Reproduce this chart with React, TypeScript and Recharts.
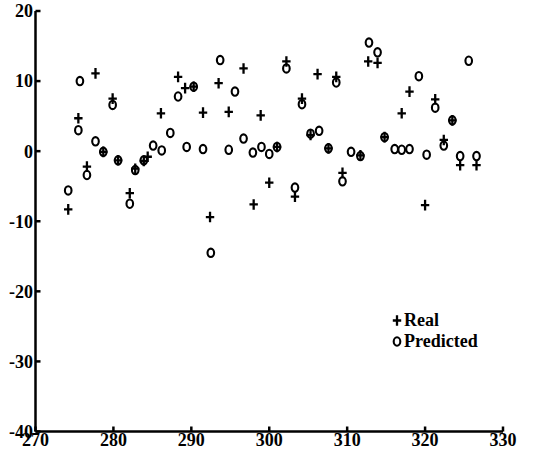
import { ScatterChart, Scatter, XAxis, YAxis, Legend } from 'recharts'

const xTicks = [270, 280, 290, 300, 310, 320, 330]
const yTicks = [-40, -30, -20, -10, 0, 10, 20]

// Real series (+)
const realX = [
  274.2, 275.5, 276.6, 277.7, 278.7, 279.9, 280.6, 282.1, 282.8, 283.9, 284.4,
  286.1, 288.3, 289.2, 290.3, 291.5, 292.4, 293.5, 294.8, 296.7, 298.0, 298.9,
  300.0, 301.0, 302.2, 303.3, 304.2, 305.3, 306.2, 307.6, 308.6, 309.4, 311.7,
  312.7, 313.9, 314.8, 317.0, 318.0, 320.0, 321.3, 322.4, 323.5, 324.5, 326.6,
]
const realY = [
  -8.3, 4.7, -2.2, 11.1, -0.1, 7.5, -1.3, -6.0, -2.5, -1.4, -0.8,
  5.4, 10.6, 9.0, 9.2, 5.5, -9.4, 9.7, 5.6, 11.8, -7.6, 5.1,
  -4.5, 0.6, 12.8, -6.5, 7.5, 2.3, 11.0, 0.4, 10.6, -3.1, -0.6,
  12.8, 12.6, 2.0, 5.4, 8.5, -7.7, 7.4, 1.6, 4.4, -2.0, -2.0,
]

// Predicted series (o)
const predX = [
  274.2, 275.5, 275.7, 276.6, 277.7, 278.7, 279.9, 280.6, 282.1, 282.8, 283.9,
  285.1, 286.2, 287.3, 288.3, 289.4, 290.3, 291.5, 292.5, 293.7, 294.8, 295.6,
  296.7, 297.9, 299.0, 300.0, 301.0, 302.2, 303.3, 304.2, 305.3, 306.4, 307.6,
  308.6, 309.4, 310.5, 311.7, 312.8, 313.9, 314.8, 316.1, 317.0, 318.0, 319.2,
  320.2, 321.3, 322.4, 323.5, 324.5, 325.6, 326.6,
]
const predY = [
  -5.6, 3.0, 10.0, -3.4, 1.4, -0.1, 6.6, -1.3, -7.5, -2.7, -1.3,
  0.8, 0.1, 2.6, 7.8, 0.6, 9.2, 0.3, -14.5, 13.0, 0.2, 8.5,
  1.8, -0.2, 0.6, -0.4, 0.6, 11.8, -5.2, 6.7, 2.5, 2.9, 0.4,
  9.8, -4.3, -0.1, -0.7, 15.5, 14.1, 2.0, 0.3, 0.2, 0.3, 10.7,
  -0.5, 6.2, 0.8, 4.4, -0.7, 12.9, -0.7,
]

const realData = realX.map((x, i) => ({ x, y: realY[i] }))
const predData = predX.map((x, i) => ({ x, y: predY[i] }))

const font = "'Liberation Serif', 'Times New Roman', serif"
const tickStyle = { fill: '#000', fontSize: 18, fontWeight: 'bold', fontFamily: font }

function Plus({ cx, cy }: any) {
  return (
    <path
      d={`M${cx - 4.2},${cy}H${cx + 4.2}M${cx},${cy - 5.3}V${cy + 5.3}`}
      stroke="#000"
      strokeWidth={2.3}
      fill="none"
    />
  )
}

function Ring({ cx, cy }: any) {
  return <ellipse cx={cx} cy={cy} rx={3.3} ry={4.2} stroke="#000" strokeWidth={2.1} fill="none" />
}

function LegendBox() {
  const row = { display: 'flex', alignItems: 'center', height: 21 }
  const label = { fontFamily: font, fontSize: 18, fontWeight: 'bold' as const, color: '#000', lineHeight: '21px', marginLeft: 1 }
  return (
    <div>
      <div style={row}>
        <svg width={12} height={21}>
          <Plus cx={6} cy={10.5} />
        </svg>
        <span style={label}>Real</span>
      </div>
      <div style={row}>
        <svg width={12} height={21}>
          <Ring cx={6} cy={10.5} />
        </svg>
        <span style={label}>Predicted</span>
      </div>
    </div>
  )
}

export default function App() {
  return (
    <div style={{ position: 'absolute', left: 0, top: 0, background: '#fff' }}>
      <ScatterChart width={556} height={460} margin={{ top: 11, right: 53, bottom: 0, left: 0 }}>
        <XAxis
          type="number"
          dataKey="x"
          domain={[270, 330]}
          ticks={xTicks}
          allowDataOverflow
          height={28.5}
          tickSize={-5}
          tickMargin={6.5}
          tick={tickStyle}
          axisLine={{ stroke: '#000', strokeWidth: 2.5 }}
          tickLine={{ stroke: '#000', strokeWidth: 2.5 }}
          interval={0}
        />
        <YAxis
          type="number"
          dataKey="y"
          domain={[-40, 20]}
          ticks={yTicks}
          allowDataOverflow
          width={35.5}
          tickSize={-5}
          tickMargin={7.5}
          tick={tickStyle}
          axisLine={{ stroke: '#000', strokeWidth: 2.5 }}
          tickLine={{ stroke: '#000', strokeWidth: 2.5 }}
          interval={0}
        />
        <Legend
          layout="vertical"
          align="center"
          verticalAlign="middle"
          content={() => <LegendBox />}
          wrapperStyle={{ left: 391, top: 310, width: 'auto' }}
        />
        <Scatter name="Real" data={realData} shape={Plus} isAnimationActive={false} />
        <Scatter name="Predicted" data={predData} shape={Ring} isAnimationActive={false} />
      </ScatterChart>
    </div>
  )
}
